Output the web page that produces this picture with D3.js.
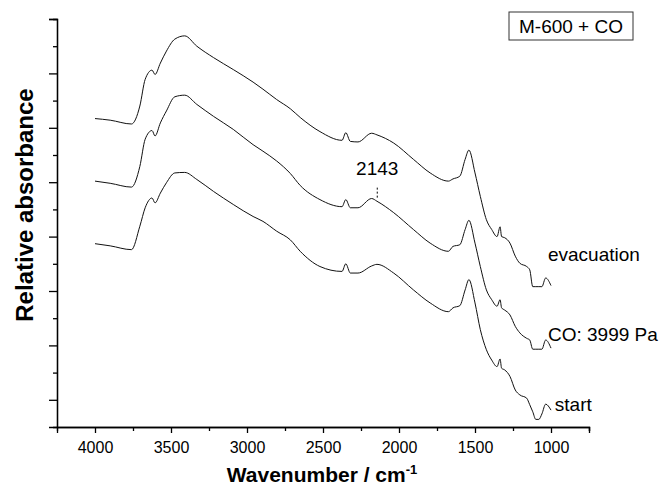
<!DOCTYPE html>
<html>
<head>
<meta charset="utf-8">
<script src="https://cdn.jsdelivr.net/npm/d3@7"></script>
<style>
  body { margin: 0; background: #fff; }
  text { font-family: "Liberation Sans", Arial, sans-serif; fill: #000; }
</style>
</head>
<body>
<div id="chart-area"></div>
<script>
// wavenumber grid shared by the three spectra (cm-1)
var wavenumbers = [4000, 3900, 3760, 3705, 3670, 3625, 3605, 3570, 3530, 3475,
  3410, 3330, 3220, 3090, 2960, 2895, 2805, 2715, 2650, 2520,
  2375, 2350, 2320, 2270, 2180, 2145, 2035, 1905, 1795, 1675,
  1645, 1600, 1565, 1540, 1500, 1465, 1425, 1390, 1355, 1335,
  1325, 1305, 1270, 1235, 1205, 1160, 1140, 1120, 1100, 1080,
  1060, 1035, 1000];

// relative absorbance (stacked, arbitrary units)
var evacuation = [5.67, 5.64, 5.57, 5.90, 6.39, 6.56, 6.48, 6.69, 6.91, 7.13,
  7.19, 7.00, 6.79, 6.57, 6.34, 6.21, 6.02, 5.85, 5.69, 5.43,
  5.27, 5.41, 5.25, 5.24, 5.40, 5.37, 5.22, 4.92, 4.67, 4.52,
  4.56, 4.61, 4.92, 5.09, 4.67, 4.24, 3.81, 3.63, 3.50, 3.68,
  3.50, 3.48, 3.38, 3.14, 3.01, 2.95, 2.89, 2.58, 2.58, 2.58,
  2.58, 2.74, 2.60];
var coPressure = [4.52, 4.48, 4.41, 4.79, 5.29, 5.45, 5.35, 5.59, 5.81, 6.07,
  6.10, 5.93, 5.71, 5.47, 5.19, 5.07, 4.89, 4.66, 4.44, 4.18,
  4.05, 4.18, 4.03, 4.03, 4.20, 4.15, 3.94, 3.63, 3.38, 3.23,
  3.32, 3.35, 3.63, 3.80, 3.38, 2.95, 2.52, 2.34, 2.22, 2.34,
  2.19, 2.15, 2.06, 1.85, 1.73, 1.63, 1.60, 1.43, 1.43, 1.43,
  1.43, 1.60, 1.45];
var start = [3.37, 3.33, 3.26, 3.69, 4.03, 4.21, 4.12, 4.30, 4.49, 4.67,
  4.68, 4.55, 4.33, 4.09, 3.87, 3.78, 3.60, 3.44, 3.23, 2.95,
  2.86, 3.00, 2.83, 2.83, 2.96, 2.99, 2.83, 2.52, 2.28, 2.12,
  2.19, 2.23, 2.52, 2.71, 2.28, 1.79, 1.42, 1.23, 1.11, 1.25,
  1.08, 1.05, 0.93, 0.68, 0.59, 0.53, 0.41, 0.28, 0.14, 0.14,
  0.24, 0.42, 0.31];

var seriesNames = ["evacuation", "CO: 3999 Pa", "start"];
var seriesValues = [evacuation, coPressure, start];
var labelPos = [[1020, 3.17], [1020, 1.71], [975, 0.42]];

var xTicks = [4000, 3500, 3000, 2500, 2000, 1500, 1000];
var xMinor = [3750, 3250, 2750, 2250, 1750, 1250, 750];
var yTicks = [0.5, 1.5, 2.5, 3.5, 4.5, 5.5, 6.5, 7.5];
var yMinor = [1, 2, 3, 4, 5, 6, 7];

var margin = { left: 57, right: 75, top: 19, bottom: 60 };
var width = 664 - margin.left - margin.right,
  height = 487 - margin.top - margin.bottom;

var svg = d3.select("#chart-area")
  .append("svg")
  .attr("width", 664)
  .attr("height", 487);

var g = svg.append("g")
  .attr("transform", "translate(" + margin.left + "," + margin.top + ")");

var x = d3.scaleLinear().domain([4250, 750]).range([0, width]);
var y = d3.scaleLinear().domain([0, 7.5]).range([height, 0]);

// axes
var xAxis = d3.axisBottom(x).tickValues(xTicks).tickSize(6).tickPadding(9)
  .tickFormat(d3.format("d"));
var xMinorAxis = d3.axisBottom(x).tickValues(xMinor).tickSize(4).tickFormat("");
var yAxis = d3.axisLeft(y).tickValues(yTicks).tickSize(8).tickFormat("");
var yMinorAxis = d3.axisLeft(y).tickValues(yMinor).tickSize(4).tickFormat("");

function styleAxis(sel) {
  sel.selectAll("path, line").attr("stroke", "#000").attr("stroke-width", 1.3);
  sel.selectAll("text").style("font-size", "16px").attr("fill", "#000");
}

g.append("g").attr("transform", "translate(0," + height + ")").call(xMinorAxis).call(styleAxis);
g.append("g").attr("transform", "translate(0," + height + ")").call(xAxis).call(styleAxis);
g.append("g").call(yMinorAxis).call(styleAxis);
g.append("g").call(yAxis).call(styleAxis);

// axis titles
var xTitle = svg.append("text")
  .attr("x", margin.left + width / 2 - 1)
  .attr("y", 482)
  .attr("text-anchor", "middle")
  .style("font-size", "21px")
  .style("font-weight", "bold");
xTitle.append("tspan").text("Wavenumber / cm");
xTitle.append("tspan").attr("dy", -8).style("font-size", "13px").text("-1");

svg.append("text")
  .attr("transform", "translate(33," + (margin.top + 186) + ") rotate(-90)")
  .attr("text-anchor", "middle")
  .style("font-size", "24px")
  .style("font-weight", "bold")
  .text("Relative absorbance");

// spectra
var line = d3.line()
  .x(function (d) { return x(d[0]); })
  .y(function (d) { return y(d[1]); })
  .curve(d3.curveMonotoneX);

seriesValues.forEach(function (vals, i) {
  var pts = wavenumbers.map(function (w, j) { return [w, vals[j]]; });
  g.append("path")
    .datum(pts)
    .attr("fill", "none")
    .attr("stroke", "#111")
    .attr("stroke-width", 1)
    .attr("d", line);

  g.append("text")
    .attr("x", x(labelPos[i][0]))
    .attr("y", y(labelPos[i][1]))
    .attr("dy", "0.36em")
    .style("font-size", "19px")
    .text(seriesNames[i]);
});

// 2143 annotation
g.append("text")
  .attr("x", x(2143))
  .attr("y", y(4.75))
  .attr("dy", "0.36em")
  .attr("text-anchor", "middle")
  .style("font-size", "19px")
  .text("2143");
g.append("line")
  .attr("x1", x(2143)).attr("x2", x(2143))
  .attr("y1", y(4.40)).attr("y2", y(4.18))
  .attr("stroke", "#000")
  .attr("stroke-width", 1)
  .attr("stroke-dasharray", "2,2");

// legend box
var legend = svg.append("g").attr("transform", "translate(509,12)");
legend.append("rect")
  .attr("width", 124)
  .attr("height", 28)
  .attr("fill", "#fff")
  .attr("stroke", "#333")
  .attr("stroke-width", 1);
legend.append("text")
  .attr("x", 62)
  .attr("y", 14)
  .attr("dy", "0.36em")
  .attr("text-anchor", "middle")
  .style("font-size", "19px")
  .text("M-600 + CO");
</script>
</body>
</html>
